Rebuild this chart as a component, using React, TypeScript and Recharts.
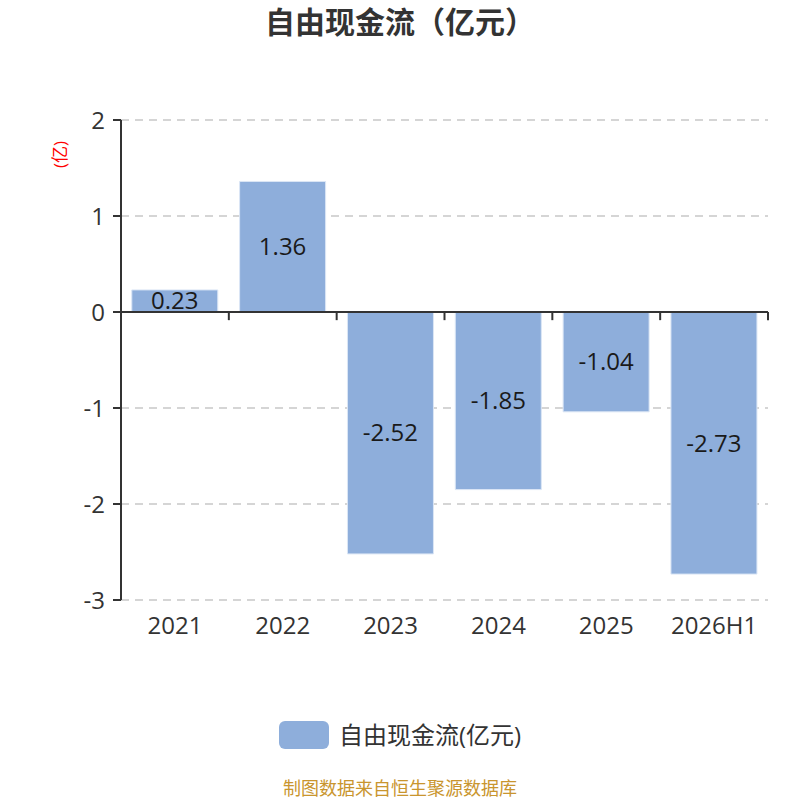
import React from 'react';
import { BarChart, Bar, XAxis, YAxis, CartesianGrid, ReferenceLine, LabelList, Label } from 'recharts';

const YEARS = ['2021', '2022', '2023', '2024', '2025', '2026H1'];
const FCF = [0.23, 1.36, -2.52, -1.85, -1.04, -2.73];
const Y_TICKS = [-3, -2, -1, 0, 1, 2];
const SERIES_NAME = '自由现金流(亿元)';

const data = YEARS.map((year, i) => ({ year, fcf: FCF[i] }));

const FONT = "'Open Sans', 'Noto Sans CJK SC', sans-serif";
const BAR_COLOR = '#8eaedb';
const AXIS_COLOR = '#333';

export default function App() {
  return (
    <div style={{ position: 'absolute', left: 0, top: 0, width: 800, height: 800, background: '#fff', fontFamily: FONT }}>
      <div style={{ position: 'absolute', top: 4, width: 800, textAlign: 'center', fontSize: 30, lineHeight: '36px', fontWeight: 'bold', color: '#333' }}>
        自由现金流（亿元）
      </div>
      <BarChart width={800} height={800} data={data} margin={{ top: 120, right: 32, bottom: 170, left: 61 }} barCategoryGap="10%">
        <CartesianGrid horizontal vertical={false} stroke="#c8c8c8" strokeDasharray="8 6" strokeWidth={1.5} />
        <XAxis dataKey="year" axisLine={false} tickLine={false} tickSize={0} tickMargin={17}
          tick={{ fontSize: 24, fill: '#333', fontFamily: FONT }} interval={0} />
        <YAxis domain={[-3, 2]} ticks={Y_TICKS} width={60} stroke={AXIS_COLOR} strokeWidth={2}
          tickSize={8} tickMargin={8} tick={{ fontSize: 24, fill: '#333', fontFamily: FONT }}>
          <Label value="(亿)" angle={-90} position="insideTopLeft" offset={0} dx={-7} dy={48}
            style={{ fill: 'red', fontSize: 17, fontFamily: FONT }} />
        </YAxis>
        <Bar dataKey="fcf" name={SERIES_NAME} fill={BAR_COLOR} stroke="#dbe6f5" strokeWidth={1} isAnimationActive={false}>
          <LabelList dataKey="fcf" position="center" fill="#1a1a1a" fontSize={24} fontFamily={FONT} />
        </Bar>
        <ReferenceLine y={0} stroke={AXIS_COLOR} strokeWidth={2} />
        {YEARS.map(y => (
          <ReferenceLine key={y} position="end" segment={[{ x: y, y: 0 }, { x: y, y: -0.085 }]}
            stroke={AXIS_COLOR} strokeWidth={2} />
        ))}
      </BarChart>
      <div style={{ position: 'absolute', top: 720, width: 800, display: 'flex', justifyContent: 'center', alignItems: 'center' }}>
        <div style={{ width: 50, height: 28, borderRadius: 6, background: BAR_COLOR, marginRight: 10 }} />
        <span style={{ fontSize: 24, lineHeight: '30px', color: '#333' }}>{SERIES_NAME}</span>
      </div>
      <div style={{ position: 'absolute', top: 778, width: 800, textAlign: 'center', fontSize: 18, lineHeight: '20px', color: '#c9952e' }}>
        制图数据来自恒生聚源数据库
      </div>
    </div>
  );
}
